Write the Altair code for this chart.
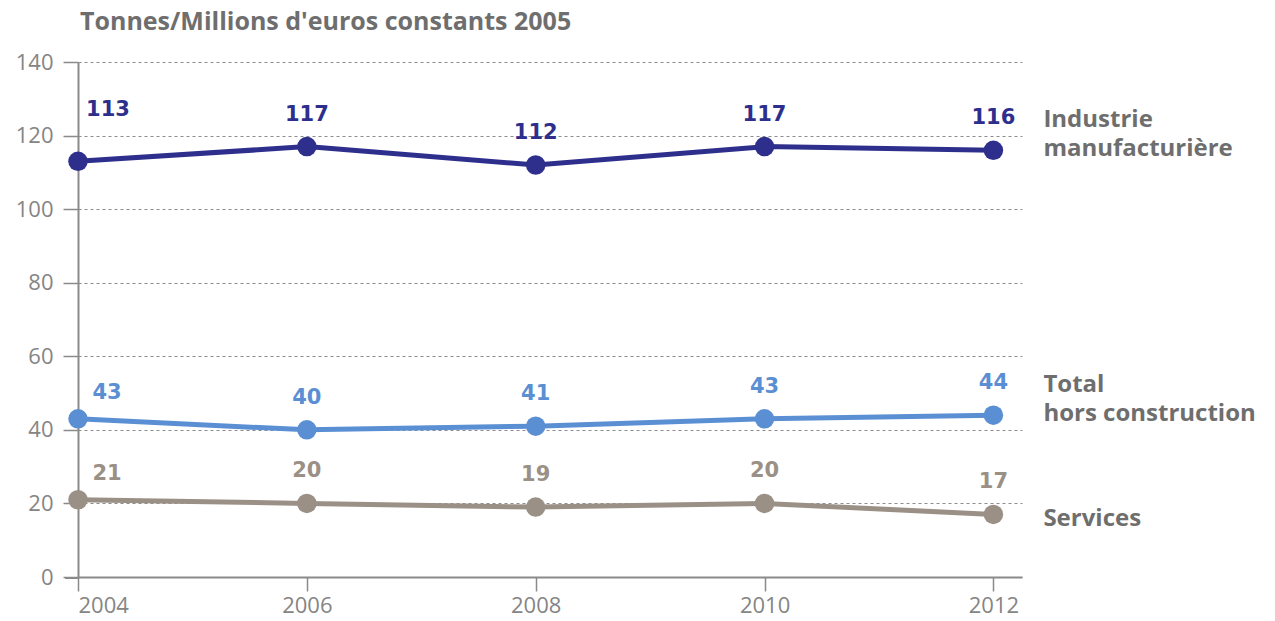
import altair as alt
import pandas as pd

years = [2004, 2006, 2008, 2010, 2012]
industrie = [113, 117, 112, 117, 116]
total = [43, 40, 41, 43, 44]
services = [21, 20, 19, 20, 17]
series_names = ["Industrie manufacturière", "Total hors construction", "Services"]
end_labels = [["Industrie", "manufacturière"], ["Total", "hors construction"], ["Services"]]
colors = ["#2e2f8c", "#5b8fd3", "#9b9086"]
y_ticks = [0, 20, 40, 60, 80, 100, 120, 140]
x_ticks = [2004, 2006, 2008, 2010, 2012]
title_text = "Tonnes/Millions d'euros constants 2005"

rows = []
for name, vals in zip(series_names, [industrie, total, services]):
    for yr, v in zip(years, vals):
        rows.append({"annee": yr, "valeur": v, "serie": name, "txt": str(v)})
df = pd.DataFrame(rows)

ends = pd.DataFrame({
    "annee": [years[-1]] * 3,
    "valeur": [industrie[-1], total[-1], services[-1]],
    "serie": series_names,
    "lab": end_labels,
    "nl": [len(l) for l in end_labels],
})

W, H = 944, 515
xs = alt.Scale(domain=[2004, 2012.25], nice=False, zero=False)
ys = alt.Scale(domain=[0, 140], nice=False)
cs = alt.Scale(domain=series_names, range=colors)

x_enc = alt.X("annee:Q", scale=xs, axis=alt.Axis(
    values=x_ticks, format="d", title=None, grid=False,
    domainColor="#8a8a8a", domainWidth=2, tickColor="#8a8a8a", tickWidth=1.5,
    tickSize=14, labelFontSize=22, labelFont="Open Sans", labelColor="#858585",
    labelPadding=4))
y_enc = alt.Y("valeur:Q", scale=ys, axis=alt.Axis(
    values=y_ticks, title=None, grid=True, gridDash=[3, 3], gridColor="#8c8c8c",
    gridWidth=1, domainColor="#8a8a8a", domainWidth=2, tickColor="#8a8a8a",
    tickWidth=1.5, tickSize=15, labelFontSize=22, labelFont="Open Sans",
    labelColor="#858585", labelPadding=10))
c_enc = alt.Color("serie:N", scale=cs, legend=None)

base = alt.Chart(df)
lines = base.mark_line(strokeWidth=5).encode(x=x_enc, y=y_enc, color=c_enc, detail="serie:N")
points = base.mark_circle(size=380, opacity=1).encode(x="annee:Q", y="valeur:Q", color=c_enc)

lab_style = dict(font="DejaVu Sans", fontWeight="bold", fontSize=21, align="center", baseline="middle")
vlabels = base.mark_text(dy=-32, **lab_style).encode(
    x="annee:Q", y="valeur:Q", text="txt:N", color=c_enc
).transform_filter(alt.datum.annee != 2004)
first_other = base.mark_text(dx=29, dy=-26, **lab_style).encode(
    x="annee:Q", y="valeur:Q", text="txt:N", color=c_enc
).transform_filter((alt.datum.annee == 2004) & (alt.datum.serie != series_names[0]))
first_ind = base.mark_text(dx=30, dy=-51, **lab_style).encode(
    x="annee:Q", y="valeur:Q", text="txt:N", color=c_enc
).transform_filter((alt.datum.annee == 2004) & (alt.datum.serie == series_names[0]))

end_style = dict(font="Open Sans", fontWeight="bold", fontSize=24, align="left",
                 baseline="middle", color="#6e6e6e", lineHeight=29)
end_two = alt.Chart(ends).mark_text(dx=50, dy=-30, **end_style).encode(
    x="annee:Q", y="valeur:Q", text="lab"
).transform_filter(alt.datum.nl == 2)
end_one = alt.Chart(ends).mark_text(dx=50, dy=5, **end_style).encode(
    x="annee:Q", y="valeur:Q", text="lab"
).transform_filter(alt.datum.nl == 1)

axis_ext = alt.Chart(pd.DataFrame({"v": [0]})).mark_rule(color="#8a8a8a", strokeWidth=2).encode(
    x=alt.value(-13), x2=alt.value(0), y=alt.value(H + 1))

title_mark = alt.Chart(pd.DataFrame({"t": [title_text]})).mark_text(
    font="Open Sans", fontWeight="bold", fontSize=25, color="#6e6e6e",
    align="left", baseline="alphabetic"
).encode(x=alt.value(2), y=alt.value(-32), text="t:N")

chart = alt.layer(
    lines, points, vlabels, first_other, first_ind, end_two, end_one, axis_ext, title_mark
).properties(
    width=W, height=H,
    autosize=alt.AutoSizeParams(type="none"),
    padding={"left": 70, "top": 54, "right": 245, "bottom": 44},
).configure_view(stroke=None)

chart.save("out.html", embed_options={"renderer": "svg", "actions": False})
